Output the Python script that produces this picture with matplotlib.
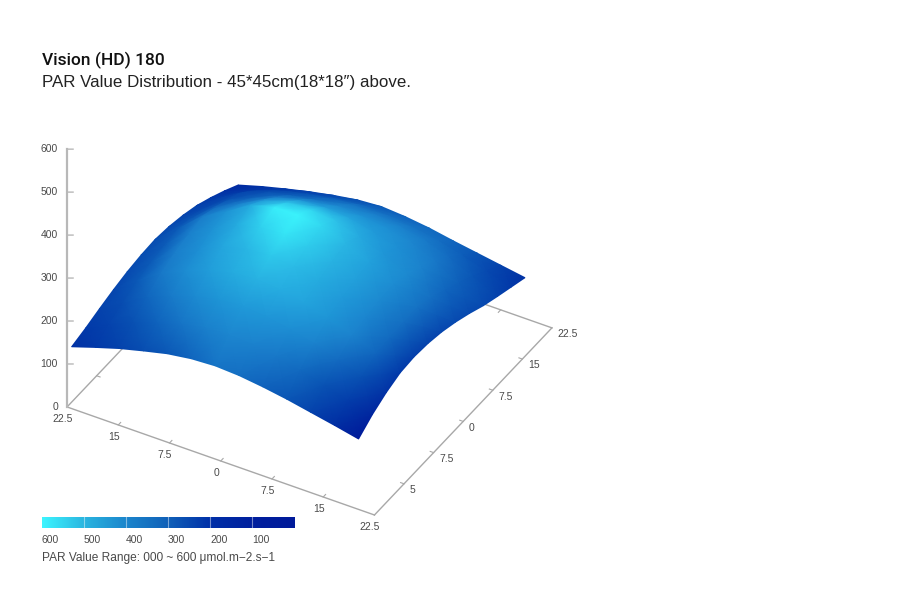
import numpy as np
import matplotlib
matplotlib.use('Agg')
import matplotlib.pyplot as plt
from matplotlib.colors import LinearSegmentedColormap, Normalize
from mpl_toolkits.mplot3d import proj3d

plt.rcParams['font.family'] = ['Liberation Sans', 'DejaVu Sans']

# surface, rows go along y and columns along x
grid_x = [-22, -18.5, -15, -11.5, -8, -4.5, -1, 2.5, 6, 9.5, 13, 16.5, 20]
grid_y = [-22.2, -18.7, -15.2, -11.65, -8.15, -4.6, -1.1, 2.4, 5.95, 9.45, 13, 16.5, 20]
par = [
    [140, 158, 175, 189, 202, 210, 213, 210, 203, 194, 183, 172, 160],
    [149, 179, 204, 222, 239, 250, 253, 250, 241, 229, 214, 198, 183],
    [160, 195, 228, 249, 269, 281, 286, 281, 271, 257, 238, 219, 200],
    [170, 210, 248, 272, 295, 309, 314, 309, 298, 282, 260, 237, 212],
    [178, 220, 262, 289, 317, 331, 335, 329, 314, 295, 268, 240, 215],
    [183, 227, 271, 302, 332, 347, 350, 344, 325, 304, 274, 242, 212],
    [185, 232, 278, 310, 343, 358, 360, 354, 333, 310, 278, 243, 205],
    [181, 224, 267, 295, 322, 336, 338, 333, 315, 295, 265, 231, 194],
    [173, 214, 252, 275, 295, 307, 310, 305, 292, 275, 248, 214, 180],
    [162, 203, 236, 254, 266, 275, 279, 275, 267, 254, 229, 197, 164],
    [146, 179, 207, 223, 235, 244, 248, 244, 236, 224, 204, 179, 151],
    [128, 152, 172, 187, 198, 207, 211, 207, 200, 189, 174, 157, 139],
    [108, 124, 138, 151, 162, 171, 175, 171, 164, 154, 145, 136, 127],
]
# how bright each grid point looks, 0 darkest blue to 100 cyan
shade = [
    [12, 16, 20, 26, 31, 38, 45, 42, 36, 30, 20, 10, 0],
    [16, 21, 28, 37, 45, 51, 55, 52, 47, 40, 29, 18, 6],
    [20, 26, 38, 48, 57, 63, 66, 64, 59, 52, 41, 28, 12],
    [22, 32, 47, 58, 67, 73, 76, 74, 70, 63, 52, 38, 16],
    [24, 33, 50, 60, 71, 78, 84, 80, 73, 66, 54, 40, 18],
    [25, 33, 51, 62, 73, 86, 93, 85, 76, 68, 56, 42, 20],
    [25, 33, 50, 62, 73, 96, 98, 88, 77, 69, 58, 44, 22],
    [24, 30, 40, 50, 65, 82, 88, 82, 72, 64, 56, 42, 24],
    [22, 23, 28, 35, 47, 59, 67, 70, 66, 60, 52, 38, 24],
    [20, 18, 21, 26, 33, 42, 55, 60, 60, 55, 47, 35, 24],
    [16, 15, 17, 21, 27, 34, 44, 49, 51, 48, 41, 30, 20],
    [12, 13, 15, 19, 24, 30, 37, 42, 44, 42, 34, 24, 16],
    [8, 12, 16, 20, 24, 28, 33, 37, 40, 38, 30, 20, 12],
]

axis_ticks = [-22.5, -15, -7.5, 0, 7.5, 15, 22.5]
x_labels = ['22.5', '15', '7.5', '0', '7.5', '15', '22.5']
y_labels = ['', '5', '7.5', '0', '7.5', '15', '22.5']
z_ticks = [0, 100, 200, 300, 400, 500, 600]

bar_ticks = [600, 500, 400, 300, 200, 100]
bar_stops = ['#001a9a', '#001f9e', '#0030a8', '#1060b8', '#1b85cc', '#2ab5e0', '#3df5ff']
surface_stops = [(0, '#001a9a'), (0.15, '#0238a8'), (0.3, '#0a55b5'), (0.5, '#1a7ecb'),
                 (0.65, '#1f98d8'), (0.8, '#2bbbe6'), (0.9, '#33dcf2'), (1, '#3df8ff')]

axis_grey = '#a8a8a8'
text_grey = '#4a4a4a'

fig = plt.figure(figsize=(9, 6), dpi=100)
ax = fig.add_axes([11.4 / 900, 63.4 / 600, 580.5 / 900, 580.5 / 600], projection='3d', proj_type='ortho')
ax.view_init(elev=37.5, azim=-60)
ax.set_box_aspect((355, 355, 325))
ax.set_xlim(-22.5, 22.5, view_margin=0)
ax.set_ylim(-22.5, 22.5, view_margin=0)
ax.set_zlim(0, 600, view_margin=0)
ax.set_xticks([])
ax.set_yticks([])
ax.set_zticks([])
ax.set_axis_off()

overlay = fig.add_axes(ax.get_position())
overlay.set_xlim(*ax.viewLim.intervalx)
overlay.set_ylim(*ax.viewLim.intervaly)
overlay.set_xticks([])
overlay.set_yticks([])
overlay.axis('off')


def axis_label(x, y, z, s, ha):
    # tick labels sit on the overlay at their projected place
    px, py, _ = proj3d.proj_transform(x, y, z, ax.get_proj())
    overlay.text(px, py, s, fontsize=7.5, color=text_grey, ha=ha, va='center')


lo, hi = -22.5, 22.5
ax.plot([lo, hi], [lo, lo], [0, 0], color=axis_grey, lw=1)
ax.plot([hi, hi], [lo, hi], [0, 0], color=axis_grey, lw=1)
ax.plot([lo, lo], [lo, hi], [0, 0], color=axis_grey, lw=1)
ax.plot([lo, hi], [hi, hi], [0, 0], color=axis_grey, lw=1)
ax.plot([lo, lo], [lo, lo], [0, 600], color='#b8b8b8', lw=1.6)

for t, lab in zip(axis_ticks, x_labels):
    if lo < t < hi:
        ax.plot([t, t], [lo, lo + 0.6], [0, 0], color=axis_grey, lw=0.8)
        ax.plot([t, t], [hi, hi - 0.6], [0, 0], color=axis_grey, lw=0.8)
    axis_label(t + 0.7, lo - 2.4, 0, lab, 'center')
for t, lab in zip(axis_ticks, y_labels):
    if lo < t < hi:
        ax.plot([hi, hi - 0.5], [t, t], [0, 0], color=axis_grey, lw=0.8)
        ax.plot([lo, lo + 0.5], [t, t], [0, 0], color=axis_grey, lw=0.8)
    if lab:
        axis_label(hi + 1.3, t - 0.8, 0, lab, 'left')
for z in z_ticks:
    if z > 0:
        ax.plot([lo, lo + 0.66], [lo, lo + 0.38], [z, z], color='#b8b8b8', lw=1)
    axis_label(lo - 1, lo - 0.57, z, str(z), 'right')

# the surface goes on the flat overlay so the colours can be gouraud shaded
gx, gy = np.meshgrid(grid_x, grid_y)
sx, sy, _ = proj3d.proj_transform(gx.ravel(), gy.ravel(), np.array(par, dtype=float).ravel(), ax.get_proj())
sx = np.reshape(sx, gx.shape)
sy = np.reshape(sy, gx.shape)
surface_cmap = LinearSegmentedColormap.from_list('par_surface', surface_stops)
overlay.pcolormesh(sx, sy, shade, shading='gouraud', cmap=surface_cmap, norm=Normalize(0, 100))

# colour bar
bar_ax = fig.add_axes([42 / 900, 72 / 600, 252 / 900, 11 / 600])
bar_cmap = LinearSegmentedColormap.from_list('par_bar', bar_stops)
bar_ax.imshow(np.linspace(1, 0, 256).reshape(1, -1), cmap=bar_cmap, aspect='auto', extent=[600, 0, 0, 1])
bar_ax.set_xlim(600, 0)
bar_ax.set_yticks([])
bar_ax.set_xticks(bar_ticks)
bar_ax.set_xticklabels(['%d' % b for b in bar_ticks], fontsize=7.5, color=text_grey, ha='left')
bar_ax.tick_params(axis='x', length=0, pad=5)
for s in bar_ax.spines.values():
    s.set_visible(False)
for b in bar_ticks[1:]:
    bar_ax.axvline(b, color='white', lw=0.8, alpha=0.45)

fig.text(42 / 900, 1 - 60.5 / 600, 'Vision (HD) 180', fontsize=12.5, family='Roboto', fontweight='medium', color='#111111', va='center')
fig.text(42 / 900, 1 - 83 / 600, 'PAR Value Distribution - 45*45cm(18*18″) above.', fontsize=12.15, color='#222222', va='center')
fig.text(42 / 900, 1 - 558 / 600, 'PAR Value Range: 000 ~ 600 μmol.m−2.s−1', fontsize=8.55, color=text_grey, va='center')

fig.savefig('out.png', dpi=100)
